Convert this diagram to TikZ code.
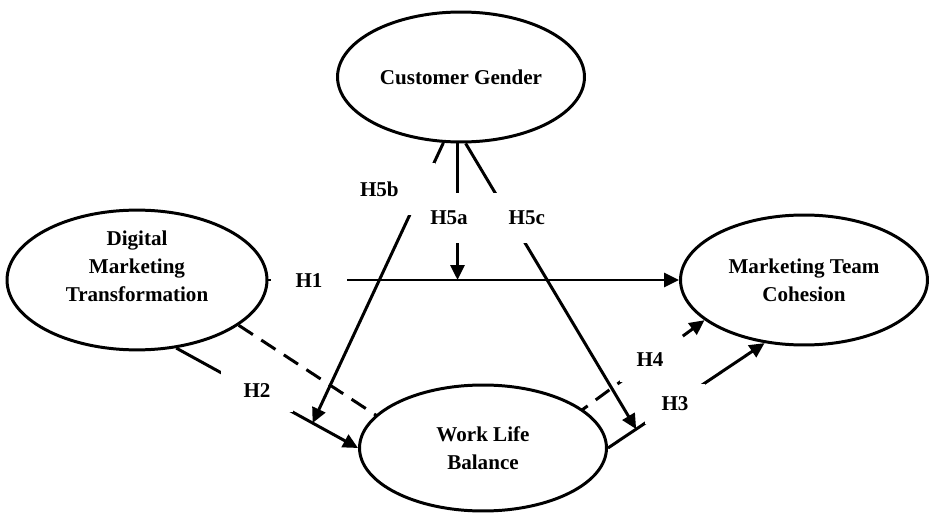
\documentclass[tikz,border=0pt]{standalone}
\usepackage{fontspec}
\setmainfont{Liberation Serif}
\usetikzlibrary{shapes.geometric, arrows.meta, calc, backgrounds}

\begin{document}
\begin{tikzpicture}[
    x=0.02cm, y=-0.02cm,
    line width=1.7pt,
    >={Triangle[length=0.3cm, width=0.28cm]},
    font=\fontsize{12}{16}\selectfont\bfseries,
    construct/.style={ellipse, draw, fill=white, align=center, inner sep=0pt,
        minimum width=4.94cm, minimum height=2.6cm},
    hlab/.style={fill=white, inner sep=0pt}
]
    \useasboundingbox (0,0) rectangle (929,513);

    % Constructs of the model
    \node[construct] (cg) at (461,77) {Customer Gender};
    \node[construct, minimum width=5.2cm, minimum height=2.66cm, text depth=0.56cm] (dmt) at (137,280) {Digital\\Marketing\\Transformation};
    \node[construct] (mtc) at (804,280) {Marketing Team\\Cohesion};
    \node[construct, minimum height=2.52cm] (wlb) at (483,448) {Work Life\\Balance};

    % Points where the moderating paths meet the direct paths
    \coordinate (h2m) at ($(dmt.-60)!0.75!(wlb.west)$);
    \coordinate (h3m) at ($(wlb.east)!0.18!(mtc.-122)$);
    \coordinate (h4bend) at (481,484);

    % Indirect path H4 runs behind the mediator
    \begin{scope}[on background layer]
        \draw[->, line width=1.7pt, dash pattern=on 0.34cm off 0.2cm] (dmt.-24) -- (h4bend) -- (mtc.-158);
    \end{scope}

    % Direct paths
    \draw[->] (dmt.east) -- (mtc.west);
    \draw[->] (dmt.-60) -- (wlb.west);
    \draw[->] (wlb.east) -- (mtc.-122);

    % Moderating paths
    \draw[->] (cg.-93) -- (cg.-93 |- dmt.east);
    \draw[->] (cg.-105) -- (h2m);
    \draw[->] (cg.-86) -- (h3m);

    % Hypothesis labels
    \node[hlab, minimum width=1.52cm, minimum height=0.6cm] (l1) at (309,281) {H1};
    \node[hlab, minimum width=1.44cm, minimum height=0.84cm] (l2) at (257,391) {H2};
    \node[hlab, minimum width=1.2cm, minimum height=0.8cm] (l3) at (675,404) {H3};
    \node[hlab, minimum width=1.2cm, minimum height=0.88cm] (l4) at (650,360) {H4};
    \node[hlab, text width=1.5cm, align=left, minimum height=1.04cm] (l5b) at (397.5,189) {H5b};
    \node[hlab, minimum width=0.8cm, minimum height=1.0cm] (l5a) at (449,218) {H5a};
    \node[hlab, text width=1.14cm, align=right, minimum height=1.0cm] (l5c) at (516.5,218) {H5c};
\end{tikzpicture}
\end{document}
